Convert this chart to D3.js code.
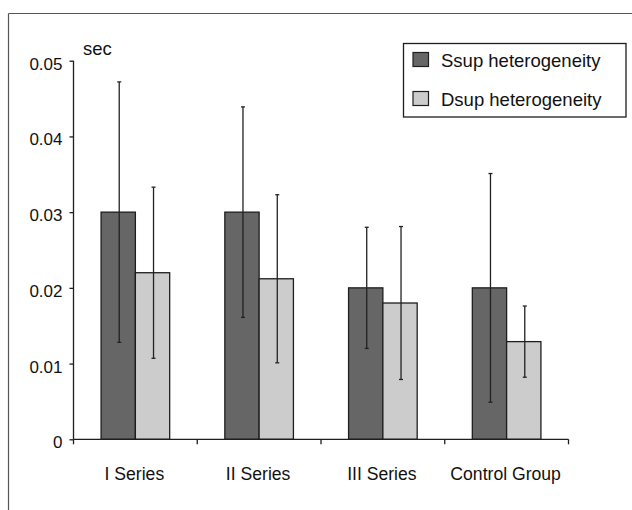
<!DOCTYPE html>
<html>
<head>
<meta charset="utf-8">
<script src="https://cdn.jsdelivr.net/npm/d3@7"></script>
<style>
  html, body { margin: 0; padding: 0; background: #fff; }
  svg { display: block; font-family: "Liberation Sans", Arial, Helvetica, sans-serif; }
</style>
</head>
<body>
<svg id="chart" width="632" height="510"></svg>
<script>
const categories = ["I Series", "II Series", "III Series", "Control Group"];
const seriesNames = ["Ssup heterogeneity", "Dsup heterogeneity"];
const ssupValues = [0.030, 0.030, 0.020, 0.020];
const ssupErrors = [0.0172, 0.0139, 0.0080, 0.0151];
const dsupValues = [0.022, 0.0212, 0.018, 0.0129];
const dsupErrors = [0.0113, 0.0111, 0.0101, 0.0047];
const yTicks = [0, 0.01, 0.02, 0.03, 0.04, 0.05];
const yTickLabels = ["0", "0.01", "0.02", "0.03", "0.04", "0.05"];
const seriesColors = ["#666666", "#cccccc"];
const yUnit = "sec";

const svg = d3.select("#chart");

// outer frame (top and left edges)
svg.append("line").attr("x1", 8.5).attr("x2", 632).attr("y1", 13.5).attr("y2", 13.5)
  .attr("stroke", "#555").attr("stroke-width", 1.2);
svg.append("line").attr("x1", 8.5).attr("x2", 8.5).attr("y1", 13.5).attr("y2", 510)
  .attr("stroke", "#555").attr("stroke-width", 1.2);

const pLeft = 73.5, pRight = 568.5, pTop = 60.7, pBottom = 439.3;

const x = d3.scaleBand().domain(categories).range([pLeft, pRight]).paddingInner(0).paddingOuter(0);
const inner = d3.scaleBand().domain(seriesNames).range([0, x.bandwidth()]).paddingInner(0).paddingOuter(0.804);
const y = d3.scaleLinear().domain([0, 0.05]).range([pBottom, pTop]);

const data = categories.map((c, i) => ({
  cat: c,
  vals: [
    {s: seriesNames[0], v: ssupValues[i], e: ssupErrors[i], color: seriesColors[0]},
    {s: seriesNames[1], v: dsupValues[i], e: dsupErrors[i], color: seriesColors[1]}
  ]
}));

// Bars
const groups = svg.append("g").selectAll("g").data(data).join("g")
  .attr("transform", d => `translate(${x(d.cat)},0)`);

groups.selectAll("rect").data(d => d.vals).join("rect")
  .attr("x", d => inner(d.s))
  .attr("width", inner.bandwidth())
  .attr("y", d => y(d.v))
  .attr("height", d => y(0) - y(d.v))
  .attr("fill", d => d.color)
  .attr("stroke", "#1e1e1e")
  .attr("stroke-width", 1.3);

// Error bars
const eb = groups.selectAll("g.err").data(d => d.vals).join("g").attr("class", "err");
const cx = d => inner(d.s) + inner.bandwidth() / 2 + 1;
eb.append("line")
  .attr("x1", cx).attr("x2", cx)
  .attr("y1", d => y(d.v + d.e)).attr("y2", d => y(d.v - d.e))
  .attr("stroke", "#222").attr("stroke-width", 1.3);
eb.append("line")
  .attr("x1", d => cx(d) - 2).attr("x2", d => cx(d) + 2)
  .attr("y1", d => y(d.v + d.e)).attr("y2", d => y(d.v + d.e))
  .attr("stroke", "#222").attr("stroke-width", 1.3);
eb.append("line")
  .attr("x1", d => cx(d) - 2).attr("x2", d => cx(d) + 2)
  .attr("y1", d => y(d.v - d.e)).attr("y2", d => y(d.v - d.e))
  .attr("stroke", "#222").attr("stroke-width", 1.3);

// Y axis
const yAxis = d3.axisLeft(y).tickValues(yTicks)
  .tickFormat((d, i) => yTickLabels[i]).tickSize(4).tickPadding(7);
const yg = svg.append("g").attr("transform", `translate(${pLeft},0)`).call(yAxis);
yg.select(".domain").attr("stroke", "#1e1e1e").attr("stroke-width", 1.3).attr("d", `M0,${pTop}V${pBottom}`);
yg.selectAll(".tick line").attr("stroke", "#1e1e1e").attr("stroke-width", 1.3);
yg.selectAll(".tick text").attr("font-size", 17).attr("fill", "#111").attr("dy", "0.5em")
  .attr("font-family", "'Liberation Sans', Arial, sans-serif");

// X axis
const xg = svg.append("g");
xg.append("line").attr("x1", pLeft).attr("x2", pRight).attr("y1", pBottom).attr("y2", pBottom)
  .attr("stroke", "#1e1e1e").attr("stroke-width", 1.3);
const boundaries = categories.map(c => x(c)).concat([x.range()[1]]);
xg.selectAll("line.tk").data(boundaries).join("line").attr("class", "tk")
  .attr("x1", d => d).attr("x2", d => d).attr("y1", pBottom).attr("y2", pBottom + 5)
  .attr("stroke", "#1e1e1e").attr("stroke-width", 1.3);
xg.selectAll("text").data(categories).join("text")
  .attr("x", d => x(d) + x.bandwidth() / 2 - 1)
  .attr("y", 479.5)
  .attr("text-anchor", "middle")
  .attr("font-size", 17.6)
  .attr("fill", "#111")
  .text(d => d);

// Unit label
svg.append("text").attr("x", 83).attr("y", 55).attr("font-size", 18.5).attr("fill", "#111").text(yUnit);

// Legend
const lg = svg.append("g");
lg.append("rect").attr("x", 403.5).attr("y", 43.5).attr("width", 222.5).attr("height", 73.5)
  .attr("fill", "#fff").attr("stroke", "#1e1e1e").attr("stroke-width", 1.3);
const items = lg.selectAll("g.item").data(seriesNames).join("g").attr("class", "item")
  .attr("transform", (d, i) => `translate(0,${i * 39})`);
items.append("rect").attr("x", 413).attr("y", 52.5).attr("width", 15.5).attr("height", 14)
  .attr("fill", (d, i) => seriesColors[i]).attr("stroke", "#1e1e1e").attr("stroke-width", 1.2);
items.append("text").attr("x", 441).attr("y", 66.5).attr("font-size", 18.5).attr("fill", "#111").text(d => d);
</script>
</body>
</html>
